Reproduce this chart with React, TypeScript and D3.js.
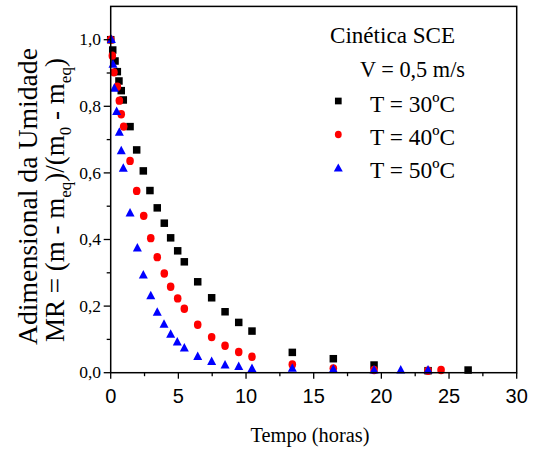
import React from "react";
import * as d3 from "d3";

// Time (hours) and MR values for each temperature
const t30 = [0, 0.15, 0.32, 0.49, 0.61, 0.78, 0.93, 1.43, 1.92, 2.41, 2.9, 3.44, 3.96, 4.43, 4.95, 5.44, 6.43, 7.46, 8.45, 9.46, 10.44, 13.42, 16.45, 19.46, 23.45, 26.41];
const mr30 = [1.0, 0.969, 0.936, 0.904, 0.876, 0.847, 0.819, 0.739, 0.669, 0.606, 0.547, 0.495, 0.449, 0.405, 0.366, 0.333, 0.273, 0.225, 0.183, 0.151, 0.125, 0.061, 0.042, 0.023, 0.006, 0.008];

const t40 = [0, 0.12, 0.24, 0.49, 0.64, 0.78, 0.96, 1.43, 1.92, 2.44, 2.96, 3.44, 3.96, 4.43, 4.95, 5.44, 6.43, 7.46, 8.45, 9.46, 10.44, 13.42, 16.45, 19.46, 23.45, 24.41];
const mr40 = [1.0, 0.952, 0.902, 0.859, 0.817, 0.776, 0.739, 0.636, 0.546, 0.471, 0.404, 0.347, 0.298, 0.258, 0.223, 0.192, 0.144, 0.107, 0.081, 0.062, 0.048, 0.025, 0.013, 0.008, 0.006, 0.008];

const t50 = [0.05, 0.17, 0.27, 0.44, 0.64, 0.78, 0.93, 1.43, 1.97, 2.41, 2.96, 3.44, 3.94, 4.43, 4.92, 5.44, 6.43, 7.46, 8.45, 9.46, 10.44, 13.42, 16.45, 19.46, 21.43, 23.45];
const mr50 = [1.0, 0.926, 0.854, 0.784, 0.722, 0.666, 0.614, 0.479, 0.374, 0.293, 0.231, 0.181, 0.145, 0.115, 0.092, 0.074, 0.048, 0.033, 0.023, 0.018, 0.012, 0.013, 0.01, 0.008, 0.008, 0.008];

const xTicks = [0, 5, 10, 15, 20, 25, 30];
const xMinor = [2.5, 7.5, 12.5, 17.5, 22.5, 27.5];
const yTicks = [0, 0.2, 0.4, 0.6, 0.8, 1.0];
const yMinor = [0.1, 0.3, 0.5, 0.7, 0.9];
const yTickLabels = ["0,0", "0,2", "0,4", "0,6", "0,8", "1,0"];

const legendTitle = "Cinética SCE";
const legendSub = "V = 0,5 m/s";
const seriesNames = ["T = 30ºC", "T = 40ºC", "T = 50ºC"];

const serif = "'Liberation Serif', 'Times New Roman', serif";
const sans = "'Liberation Sans', Arial, sans-serif";

export default function App() {
  const x = d3.scaleLinear().domain([0, 30]).range([110.7, 516.7]);
  const y = d3.scaleLinear().domain([0, 1.1]).range([372.7, 6.4]);
  const [x0, x1] = x.range();
  const [y0, y1] = y.range();

  const square = (cx: number, cy: number, s: number, k: string) => (
    <rect key={k} x={cx - s / 2} y={cy - s / 2} width={s} height={s} fill="#000" />
  );
  const circle = (cx: number, cy: number, r: number, k: string) => (
    <ellipse key={k} cx={cx} cy={cy} rx={r} ry={r * 1.1} fill="#ff0000" />
  );
  const tri = (cx: number, cy: number, w: number, h: number, k: string) => (
    <path
      key={k}
      d={`M${cx},${cy - h * 0.6}L${cx + w / 2},${cy + h * 0.4}L${cx - w / 2},${cy + h * 0.4}Z`}
      fill="#0000ff"
    />
  );

  return (
    <div style={{ position: "absolute", left: 0, top: 0 }}>
      <svg width={533} height={452} style={{ display: "block" }}>
        <rect x={0} y={0} width={533} height={452} fill="#fff" />

        {/* markers */}
        {t30.map((t, i) => square(x(t), y(mr30[i]), 7.5, "s" + i))}
        {t40.map((t, i) => circle(x(t), y(mr40[i]), 3.8, "c" + i))}
        {t50.map((t, i) => tri(x(t), y(mr50[i]), 9, 8.5, "t" + i))}

        {/* frame */}
        <rect x={x0} y={y1} width={x1 - x0} height={y0 - y1} fill="none" stroke="#000" strokeWidth={1.5} />

        {/* x ticks */}
        {xTicks.map((v) => (
          <g key={"xt" + v}>
            <line x1={x(v)} x2={x(v)} y1={y0} y2={y0 + 6} stroke="#000" strokeWidth={1.3} />
            <text x={x(v)} y={403.3} textAnchor="middle" fontFamily={sans} fontSize={20}>
              {v}
            </text>
          </g>
        ))}
        {xMinor.map((v) => (
          <line key={"xm" + v} x1={x(v)} x2={x(v)} y1={y0} y2={y0 + 3.5} stroke="#000" strokeWidth={1.3} />
        ))}

        {/* y ticks */}
        {yTicks.map((v, i) => (
          <g key={"yt" + v}>
            <line x1={x0} x2={x0 - 7} y1={y(v)} y2={y(v)} stroke="#000" strokeWidth={1.3} />
            <text x={101} y={y(v) + 5.7} textAnchor="end" fontFamily={serif} fontSize={17.5}>
              {yTickLabels[i]}
            </text>
          </g>
        ))}
        {yMinor.map((v) => (
          <line key={"ym" + v} x1={x0} x2={x0 - 4} y1={y(v)} y2={y(v)} stroke="#000" strokeWidth={1.3} />
        ))}

        {/* axis titles */}
        <text x={310} y={441.7} textAnchor="middle" fontFamily={serif} fontSize={20} textLength={119} lengthAdjust="spacingAndGlyphs">
          Tempo (horas)
        </text>
        <text
          transform="translate(36.7,196.5) rotate(-90)"
          textAnchor="middle"
          fontFamily={serif}
          fontSize={27}
          textLength={297}
          lengthAdjust="spacingAndGlyphs"
        >
          Adimensional da Umidade
        </text>
        <text transform="translate(63.5,200) rotate(-90)" textAnchor="middle" fontFamily={serif} fontSize={27}>
          MR = (m - m
          <tspan fontSize={17} dy={7}>eq</tspan>
          <tspan dy={-7}>)/(m</tspan>
          <tspan fontSize={17} dy={7}>0</tspan>
          <tspan dy={-7}> - m</tspan>
          <tspan fontSize={17} dy={7}>eq</tspan>
          <tspan dy={-7}>)</tspan>
        </text>

        {/* legend */}
        <text x={330} y={42.7} fontFamily={serif} fontSize={24} textLength={125} lengthAdjust="spacingAndGlyphs">
          {legendTitle}
        </text>
        <text x={360} y={76.7} fontFamily={serif} fontSize={24} textLength={105} lengthAdjust="spacingAndGlyphs">
          {legendSub}
        </text>
        {seriesNames.map((n, i) => (
          <text key={n} x={370} y={111.7 + i * 33.3} fontFamily={serif} fontSize={24} textLength={85} lengthAdjust="spacingAndGlyphs">
            {n}
          </text>
        ))}
        {square(338.3, 101, 6.7, "ls")}
        {circle(338.3, 134.5, 3.4, "lc")}
        {tri(338.3, 168.3, 9, 8, "lt")}
      </svg>
    </div>
  );
}
